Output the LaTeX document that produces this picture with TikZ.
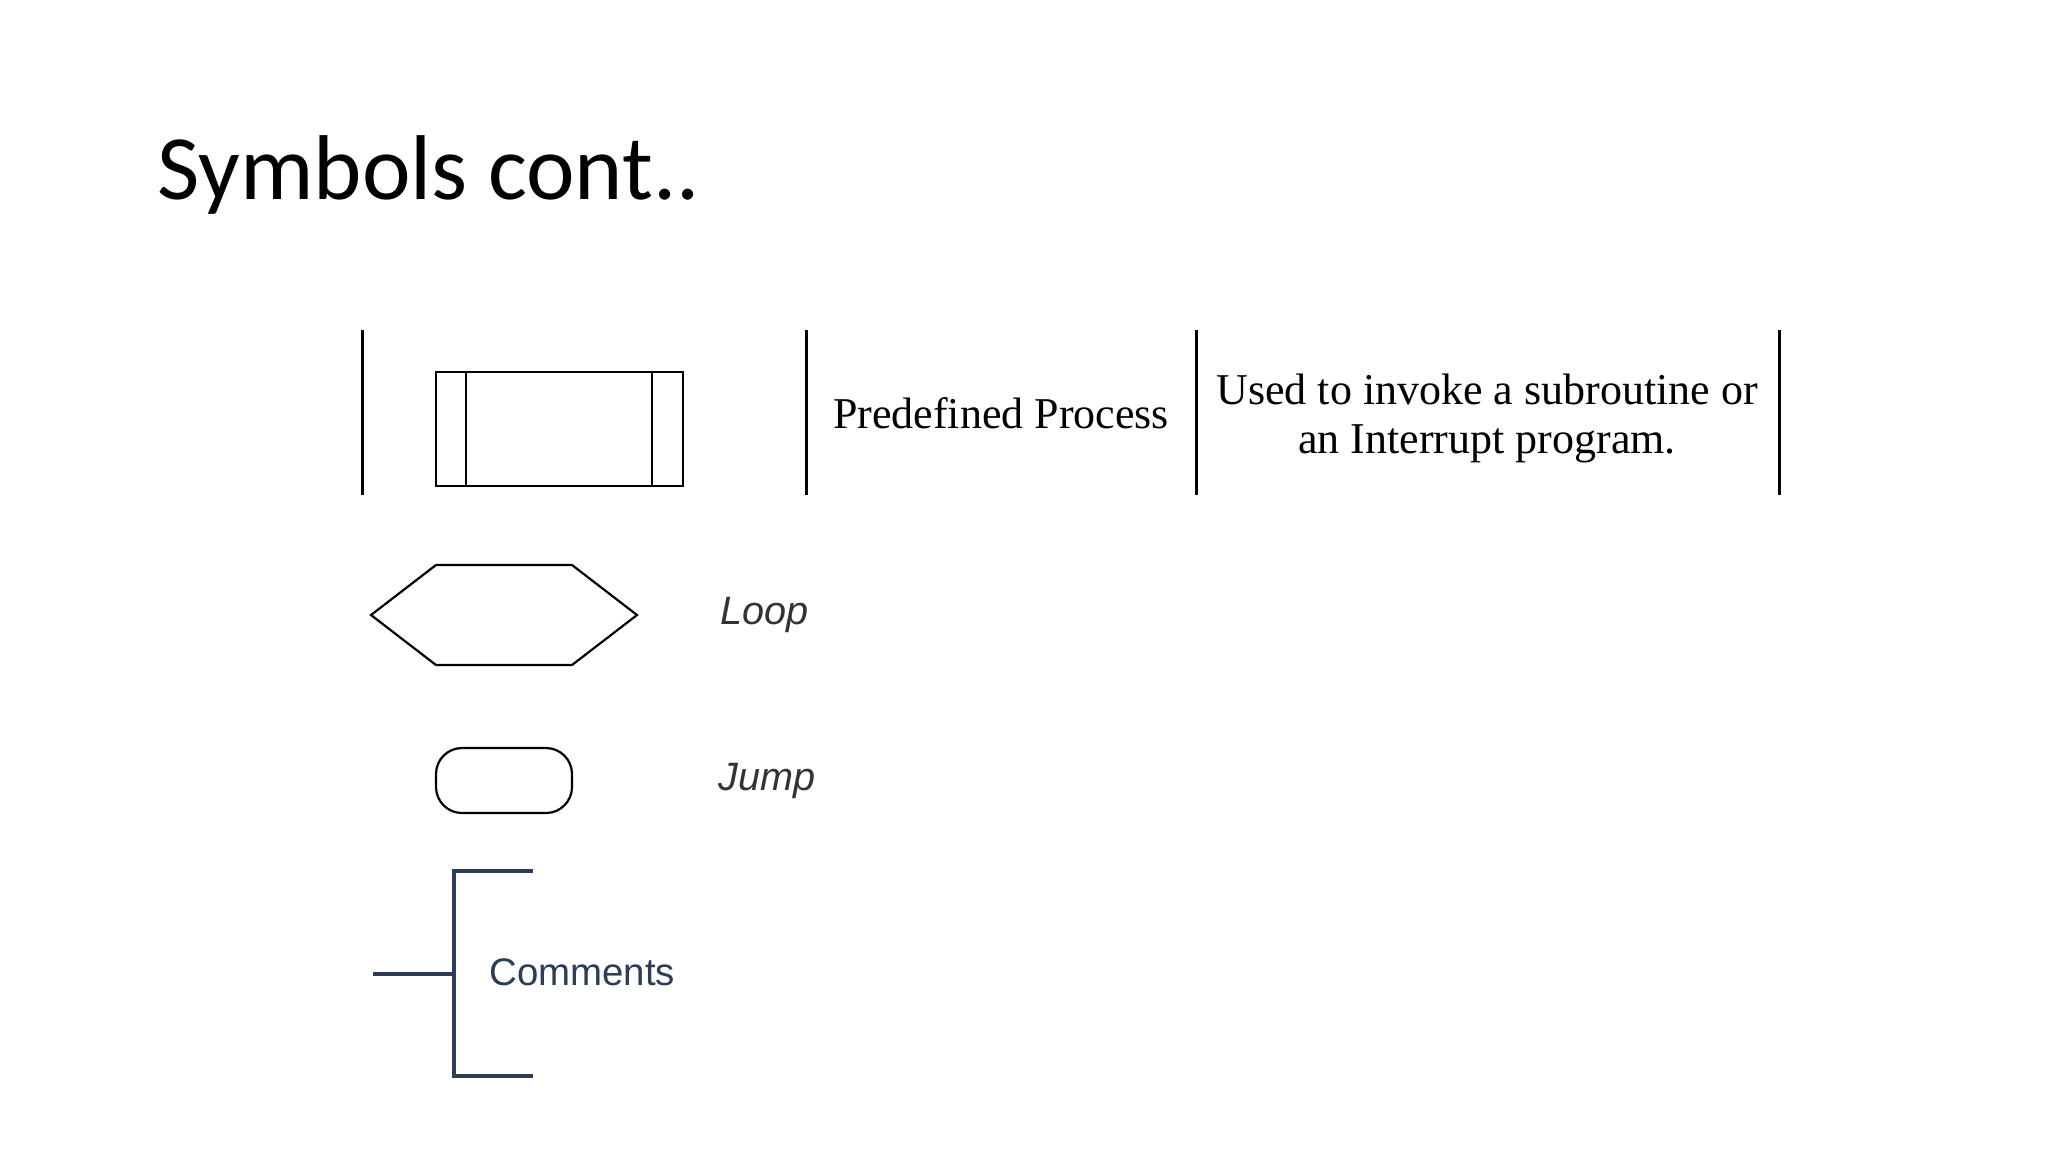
\documentclass[tikz,border=0pt]{standalone}
\usepackage{fontspec}
\setmainfont{Liberation Serif}
\newfontfamily\titlefont{Carlito}
\newfontfamily\armfont{Liberation Sans}
\definecolor{navy}{HTML}{2C3D5A}
\definecolor{labelgray}{HTML}{333333}
\begin{document}
\begin{tikzpicture}[x=0.5pt,y=-0.5pt,line join=miter,
    rule/.style={line width=1.5pt},
    symb/.style={line width=1.3pt},
    serif/.style={font=\fontsize{22}{24.5}\selectfont,inner sep=0pt},
    tag/.style={font=\armfont\itshape\fontsize{19.8}{22}\selectfont,text=labelgray,inner sep=0pt,anchor=base west}]
	\useasboundingbox[fill=white] (0,0) rectangle (2048,1152);
	\node[anchor=base west,inner sep=0pt,font=\titlefont\fontsize{46}{50}\selectfont] (title) at (157,199) {Symbols cont..};
	% table row
	\foreach \x in {362,806,1196,1779}
		\draw[rule] (\x,330) -- (\x,495);
	\draw[symb] (436,372) rectangle (683,486) (466,372) -- (466,486) (652,372) -- (652,486);
	\node[serif,anchor=base] (pname) at (1001,428) {Predefined Process};
	\node[serif,align=center] (pdesc) at (1487,418) {Used to invoke a subroutine or\\an Interrupt program.};
	% loop and jump
	\draw[symb,line width=1.1pt] (371,615) -- (436,565) -- (572,565) -- (637,615) -- (572,665) -- (436,665) -- cycle;
	\node[tag] (loop) at (720,624) {Loop};
	\draw[symb,line width=1.1pt,rounded corners=13pt] (436,748) rectangle (572,813);
	\node[tag] (jump) at (718,790) {Jump};
	% comments
	\draw[navy,line width=2pt] (373,974) -- (454,974) (533,871) -- (454,871) -- (454,1076) -- (533,1076);
	\node[anchor=base west,inner sep=0pt,text=navy,font=\armfont\fontsize{19.2}{22}\selectfont] (comm) at (489,985) {Comments};
\end{tikzpicture}
\end{document}
